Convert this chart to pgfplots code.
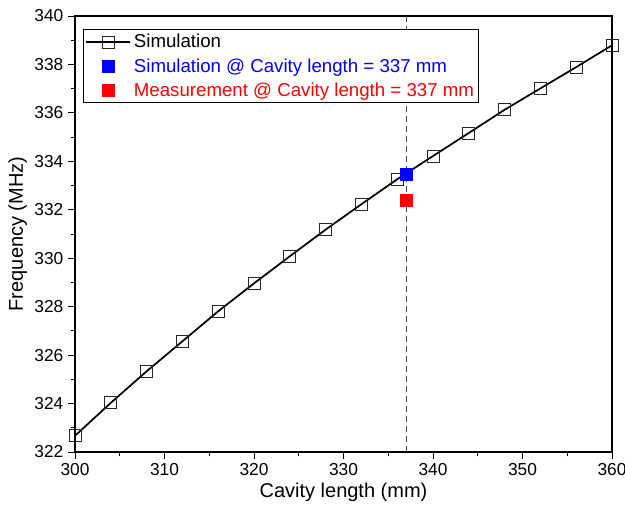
\documentclass[border=0pt]{standalone}
\usepackage{fontspec}
\setmainfont{Liberation Sans}
\usepackage{xcolor}
\usepackage{pgfplots}
\pgfplotsset{compat=1.18}
\usetikzlibrary{calc}
\definecolor{dashgray}{HTML}{4A4A4A}
\begin{document}
\begin{tikzpicture}
\begin{axis}[
  scale only axis, width=402.75pt, height=327pt,
  xmin=300, xmax=360, ymin=322, ymax=340,
  xtick={300,310,...,360}, ytick={322,324,...,340},
  minor x tick num=1, minor y tick num=1,
  tick align=outside, xtick pos=bottom, ytick pos=left,
  major tick length=5.25pt, minor tick length=3pt,
  axis line style={black, line width=0.8pt},
  tick style={black, line width=0.7pt},
  /pgf/number format/assume math mode=true,
  every tick label/.append style={font=\fontsize{13}{15}\selectfont},
  label style={font=\fontsize{15}{18}\selectfont},
  xlabel={Cavity length (mm)}, ylabel={Frequency (MHz)},
  xlabel style={at={(axis description cs:0.5,-0.0917)}, anchor=center},
  ylabel style={at={(axis description cs:-0.1068,0.5)}, anchor=center},
  legend cell align=left,
  legend style={at={(0.0149,0.970)}, anchor=north west, draw=black,
    line width=0.8pt, font=\fontsize{14}{17}\selectfont, row sep=2.5pt,
    inner sep=1.5pt},
]
\addplot[dashgray, line width=0.9pt, dash pattern=on 4.5pt off 3pt, forget plot]
  coordinates {(337,322) (337,340)};
\addplot[black, line width=1.3pt, mark=square, mark size=4.5pt,
  mark options={solid, line width=0.6pt, draw=black!85, fill=none},
  legend image code/.code={\draw[mark repeat=2,mark phase=2] plot coordinates {(0cm,0cm) (0.58cm,0cm) (1.16cm,0cm)};}]
  coordinates {
  (300,322.67) (304,324.03) (308,325.33) (312,326.57) (316,327.81)
  (320,328.96) (324,330.08) (328,331.18) (332,332.23) (336,333.26)
  (340,334.22) (344,335.17) (348,336.13) (352,337.01) (356,337.89)
  (360,338.79)};
\addlegendentry{Simulation}
\addplot[only marks, mark=square*, mark size=4.6pt, blue, mark options={draw=blue, fill=blue},
  legend image code/.code={\draw plot coordinates {(0.58cm,0cm)}; \path (1.16cm,0cm);}]
  coordinates {(337,333.47)};
\addlegendentry{\textcolor{blue}{Simulation @ Cavity length = 337 mm}}
\addplot[only marks, mark=square*, mark size=4.6pt, red, mark options={draw=red, fill=red},
  legend image code/.code={\draw plot coordinates {(0.58cm,0cm)}; \path (1.16cm,0cm);}]
  coordinates {(337,332.38)};
\addlegendentry{\textcolor{red}{Measurement @ Cavity length = 337 mm}}
\end{axis}
\pgfresetboundingbox
\path[use as bounding box] ($(current axis.south west)+(-56.25pt,-45pt)$) rectangle ($(current axis.north east)+(9.75pt,12pt)$);
\end{tikzpicture}
\end{document}
